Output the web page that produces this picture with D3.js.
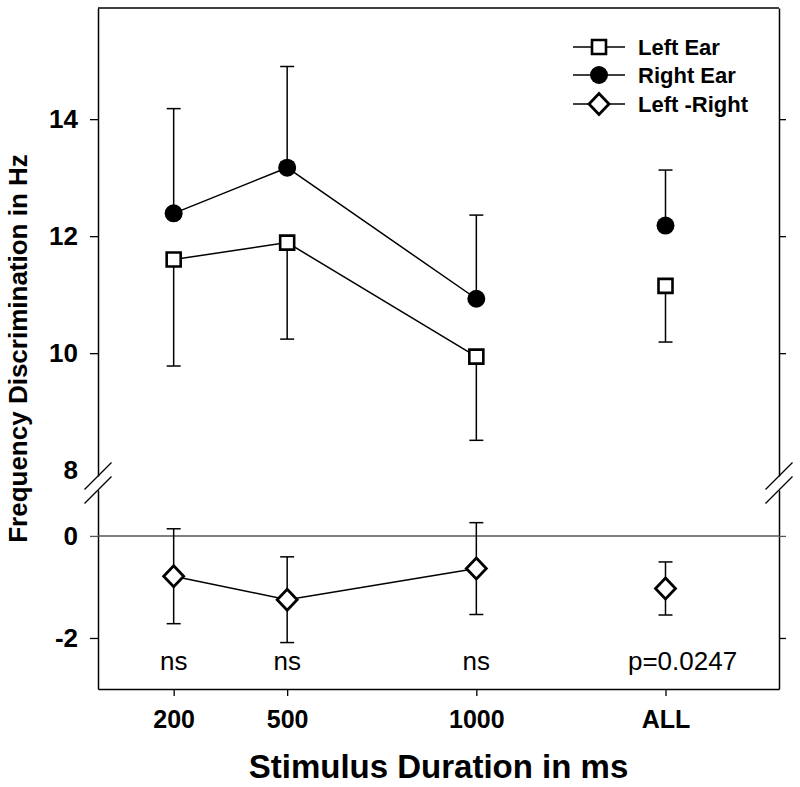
<!DOCTYPE html>
<html>
<head>
<meta charset="utf-8">
<script src="https://cdn.jsdelivr.net/npm/d3@7"></script>
<style>
  html, body { margin: 0; padding: 0; background: #fff; }
  svg { display: block; }
  text { font-family: "Liberation Sans", Arial, Helvetica, sans-serif; }
</style>
</head>
<body>
<svg id="chart" width="800" height="787"></svg>
<script>
// ---------------- data ----------------
const xValues = [200, 500, 1000, 1500];
const xLabels = ["200", "500", "1000", "ALL"];
const connected = [true, true, true, false]; // ALL is not joined by the line

const leftEar = [11.60, 11.89, 9.94, 11.15];
const leftEarErr = [1.82, 1.65, 1.43, 0.96];      // drawn downward
const rightEar = [12.39, 13.17, 10.93, 12.18];
const rightEarErr = [1.79, 1.73, 1.43, 0.95];     // drawn upward
const diffLR = [-0.79, -1.25, -0.64, -1.03];
const diffErr = [0.93, 0.84, 0.90, 0.52];         // drawn both ways

const sigLabels = ["ns", "ns", "ns", "p=0.0247"];
const sigX = [200, 500, 1000, 1545];
const sigY = -2.63;

const upperTicks = [8, 10, 12, 14];
const lowerTicks = [-2, 0];
const legendLabels = ["Left Ear", "Right Ear", "Left -Right"];

// ---------------- layout ----------------
const W = 800, H = 787;
const L = 98, R = 779, T = 8, B = 689;
const svg = d3.select("#chart");

const x = d3.scaleLinear().domain([0, 1800]).range([L, R]);
const yTop = d3.scaleLinear().domain([7.9, 15.9]).range([476, T]);
const yBot = d3.scaleLinear().domain([-3, 0.9]).range([B, 490]);

const fmt = d => String(d);

// top border
svg.append("line").attr("x1", L).attr("x2", R).attr("y1", T).attr("y2", T)
  .attr("stroke", "#000").attr("stroke-width", 1.5);

function styleAxis(g, size) {
  g.selectAll("path.domain").attr("stroke", "#000").attr("stroke-width", 1.5);
  g.selectAll(".tick line").attr("stroke", "#000").attr("stroke-width", 1.3);
  g.selectAll(".tick text").attr("font-size", size).attr("font-weight", "bold")
    .attr("fill", "#000").style("font-family", '"Liberation Sans", Arial, sans-serif');
}

// left axes
const gLT = svg.append("g").attr("transform", `translate(${L},0)`)
  .call(d3.axisLeft(yTop).tickValues(upperTicks).tickSize(8).tickPadding(12).tickSizeOuter(0).tickFormat(fmt));
styleAxis(gLT, 26);
gLT.selectAll(".tick").filter(d => d === 8).select("line").remove();

const gLB = svg.append("g").attr("transform", `translate(${L},0)`)
  .call(d3.axisLeft(yBot).tickValues(lowerTicks).tickSize(8).tickPadding(12).tickSizeOuter(0).tickFormat(fmt));
styleAxis(gLB, 26);

// right axes (ticks only)
const gRT = svg.append("g").attr("transform", `translate(${R},0)`)
  .call(d3.axisRight(yTop).tickValues(upperTicks.filter(d => d !== 8)).tickSize(7).tickSizeOuter(0).tickFormat(""));
styleAxis(gRT, 0);
const gRB = svg.append("g").attr("transform", `translate(${R},0)`)
  .call(d3.axisRight(yBot).tickValues(lowerTicks).tickSize(7).tickSizeOuter(0).tickFormat(""));
styleAxis(gRB, 0);

// bottom axis
const gX = svg.append("g").attr("transform", `translate(0,${B})`)
  .call(d3.axisBottom(x).tickValues(xValues).tickSize(7).tickPadding(14).tickSizeOuter(0)
    .tickFormat((d, i) => xLabels[i]));
styleAxis(gX, 25);

// zero line (gray)
svg.append("line").attr("x1", L).attr("x2", R).attr("y1", yBot(0)).attr("y2", yBot(0))
  .attr("stroke", "#555").attr("stroke-width", 1.5);
[gLB, gRB].forEach(g => g.selectAll(".tick").filter(d => d === 0).select("line").attr("stroke", "#555"));

// break marks on both vertical axes
[L, R].forEach(ax => {
  [yTop(7.9), yBot(0.9)].forEach(yy => {
    svg.append("line")
      .attr("x1", ax - 13.5).attr("y1", yy + 13.5)
      .attr("x2", ax + 13.5).attr("y2", yy - 13.5)
      .attr("stroke", "#000").attr("stroke-width", 1.3);
  });
});

// ---------------- series ----------------
const idx = d3.range(xValues.length);
const lineGen = (ys, scale) => d3.line()
  .x(i => x(xValues[i])).y(i => scale(ys[i]));

const connIdx = idx.filter(i => connected[i]);
[[leftEar, yTop], [rightEar, yTop], [diffLR, yBot]].forEach(([ys, sc]) => {
  svg.append("path").datum(connIdx).attr("d", lineGen(ys, sc))
    .attr("fill", "none").attr("stroke", "#000").attr("stroke-width", 1.5);
});

// error bars
function errBars(ys, lo, hi, sc) {
  const g = svg.append("g").attr("stroke", "#000").attr("stroke-width", 1.5);
  idx.forEach(i => {
    const cx = x(xValues[i]);
    g.append("line").attr("x1", cx).attr("x2", cx).attr("y1", sc(lo[i])).attr("y2", sc(hi[i]));
    if (lo[i] !== ys[i]) g.append("line").attr("x1", cx - 7).attr("x2", cx + 7).attr("y1", sc(lo[i])).attr("y2", sc(lo[i]));
    if (hi[i] !== ys[i]) g.append("line").attr("x1", cx - 7).attr("x2", cx + 7).attr("y1", sc(hi[i])).attr("y2", sc(hi[i]));
  });
}
errBars(leftEar, leftEar.map((v, i) => v - leftEarErr[i]), leftEar, yTop);
errBars(rightEar, rightEar, rightEar.map((v, i) => v + rightEarErr[i]), yTop);
errBars(diffLR, diffLR.map((v, i) => v - diffErr[i]), diffLR.map((v, i) => v + diffErr[i]), yBot);

// markers
const sq = d3.symbol().type(d3.symbolSquare).size(14 * 14);
const circ = d3.symbol().type(d3.symbolCircle).size(Math.PI * 9 * 9);
const diamondPath = "M0,-10.5L10,0L0,10.5L-10,0Z";

svg.append("g").selectAll("path").data(idx).join("path")
  .attr("d", sq()).attr("transform", i => `translate(${x(xValues[i])},${yTop(leftEar[i])})`)
  .attr("fill", "#fff").attr("stroke", "#000").attr("stroke-width", 2.6);
svg.append("g").selectAll("path").data(idx).join("path")
  .attr("d", circ()).attr("transform", i => `translate(${x(xValues[i])},${yTop(rightEar[i])})`)
  .attr("fill", "#000");
svg.append("g").selectAll("path").data(idx).join("path")
  .attr("d", diamondPath).attr("transform", i => `translate(${x(xValues[i])},${yBot(diffLR[i])})`)
  .attr("fill", "#fff").attr("stroke", "#000").attr("stroke-width", 2.8);

// significance labels
svg.append("g").selectAll("text").data(sigLabels).join("text")
  .attr("x", (d, i) => x(sigX[i])).attr("y", yBot(sigY))
  .attr("text-anchor", "middle").attr("font-size", 26).attr("fill", "#000")
  .text(d => d);

// legend
const legRows = [47, 75, 104];
const lg = svg.append("g");
legendLabels.forEach((lab, i) => {
  const yy = legRows[i];
  lg.append("line").attr("x1", 573).attr("x2", 625).attr("y1", yy).attr("y2", yy)
    .attr("stroke", "#000").attr("stroke-width", 1.5);
  const m = lg.append("path").attr("transform", `translate(599,${yy})`);
  if (i === 0) m.attr("d", sq()).attr("fill", "#fff").attr("stroke", "#000").attr("stroke-width", 2.6);
  else if (i === 1) m.attr("d", circ()).attr("fill", "#000");
  else m.attr("d", diamondPath).attr("fill", "#fff").attr("stroke", "#000").attr("stroke-width", 2.8);
  lg.append("text").attr("x", 638).attr("y", yy + 8).attr("font-size", 22)
    .attr("font-weight", "bold").attr("fill", "#000").text(lab);
});

// axis titles
svg.append("text").attr("x", (L + R) / 2).attr("y", 778).attr("text-anchor", "middle")
  .attr("font-size", 33).attr("font-weight", "bold").attr("fill", "#000")
  .text("Stimulus Duration in ms");
svg.append("text").attr("transform", `translate(27,${(T + B) / 2}) rotate(-90)`)
  .attr("text-anchor", "middle").attr("font-size", 26).attr("font-weight", "bold").attr("fill", "#000")
  .text("Frequency Discrimination in Hz");
</script>
</body>
</html>
